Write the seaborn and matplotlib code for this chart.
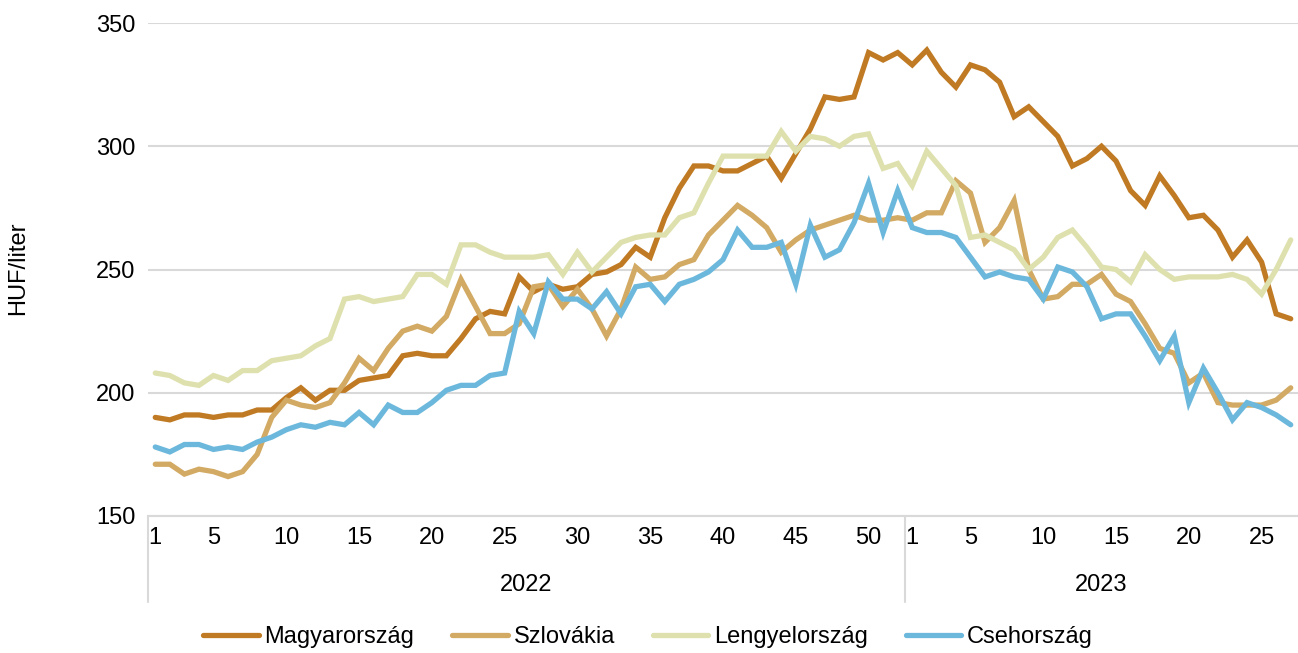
import numpy as np
import pandas as pd
import matplotlib
matplotlib.use("Agg")
import matplotlib.pyplot as plt
import seaborn as sns
from matplotlib.transforms import blended_transform_factory

# === Data (weekly fuel prices, HUF/liter) ===
weeks_2022 = list(range(1, 53))
weeks_2023 = list(range(1, 28))
years = ["2022", "2023"]
countries = ["Magyarország", "Szlovákia", "Lengyelország", "Csehország"]
colors = ["#C07A23", "#D2AA63", "#DEE1AE", "#6CB8DC"]

hu_2022 = [190, 189, 191, 191, 190, 191, 191, 193, 193, 198,
           202, 197, 201, 201, 205, 206, 207, 215, 216, 215,
           215, 222, 230, 233, 232, 247, 241, 244, 242, 243,
           248, 249, 252, 259, 255, 271, 283, 292, 292, 290,
           290, 293, 296, 287, 297, 307, 320, 319, 320, 338,
           335, 338]
hu_2023 = [333, 339, 330, 324, 333, 331, 326, 312, 316, 310,
           304, 292, 295, 300, 294, 282, 276, 288, 280, 271,
           272, 266, 255, 262, 253, 232, 230]

sk_2022 = [171, 171, 167, 169, 168, 166, 168, 175, 190, 197,
           195, 194, 196, 204, 214, 209, 218, 225, 227, 225,
           231, 246, 235, 224, 224, 228, 243, 244, 235, 242,
           234, 223, 234, 251, 246, 247, 252, 254, 264, 270,
           276, 272, 267, 257, 262, 266, 268, 270, 272, 270,
           270, 271]
sk_2023 = [270, 273, 273, 286, 281, 261, 267, 278, 250, 238,
           239, 244, 244, 248, 240, 237, 228, 218, 216, 204,
           208, 196, 195, 195, 195, 197, 202]

pl_2022 = [208, 207, 204, 203, 207, 205, 209, 209, 213, 214,
           215, 219, 222, 238, 239, 237, 238, 239, 248, 248,
           244, 260, 260, 257, 255, 255, 255, 256, 248, 257,
           249, 255, 261, 263, 264, 264, 271, 273, 285, 296,
           296, 296, 296, 306, 298, 304, 303, 300, 304, 305,
           291, 293]
pl_2023 = [284, 298, 291, 284, 263, 264, 261, 258, 250, 255,
           263, 266, 259, 251, 250, 245, 256, 250, 246, 247,
           247, 247, 248, 246, 240, 250, 262]

cz_2022 = [178, 176, 179, 179, 177, 178, 177, 180, 182, 185,
           187, 186, 188, 187, 192, 187, 195, 192, 192, 196,
           201, 203, 203, 207, 208, 233, 224, 245, 238, 238,
           234, 241, 232, 243, 244, 237, 244, 246, 249, 254,
           266, 259, 259, 261, 244, 268, 255, 258, 269, 285,
           265, 282]
cz_2023 = [267, 265, 265, 263, 255, 247, 249, 247, 246, 238,
           251, 249, 243, 230, 232, 232, 223, 213, 223, 196,
           210, 200, 189, 196, 194, 191, 187]

shown_weeks = [1, 5, 10, 15, 20, 25, 30, 35, 40, 45, 50]

# === Long table for seaborn ===
week_lbl = weeks_2022 + weeks_2023
pos = np.arange(len(week_lbl))
series = {
    "Magyarország": hu_2022 + hu_2023,
    "Szlovákia": sk_2022 + sk_2023,
    "Lengyelország": pl_2022 + pl_2023,
    "Csehország": cz_2022 + cz_2023,
}
df = pd.concat(
    [pd.DataFrame({"pos": pos, "value": v, "country": k}) for k, v in series.items()],
    ignore_index=True,
)

# === Plot ===
sns.set_style("white")
plt.rcParams["font.family"] = ["Liberation Sans", "DejaVu Sans"]
plt.rcParams["font.size"] = 17
plt.rcParams["text.color"] = "black"
plt.rcParams["xtick.color"] = "black"
plt.rcParams["ytick.color"] = "black"

fig = plt.figure(figsize=(12.98, 6.53), dpi=100)
ax = fig.add_axes([148 / 1298, 1 - 516 / 653, 1150 / 1298, (516 - 23) / 653])

sns.lineplot(data=df, x="pos", y="value", hue="country", hue_order=countries,
             palette=colors, linewidth=3.8, legend=False, ax=ax)
for ln in ax.lines:
    ln.set_solid_capstyle("round")
    ln.set_solid_joinstyle("miter")

ax.set_xlim(-0.5, len(week_lbl) - 0.5)
ax.set_ylim(150, 350)
ax.set_yticks([150, 200, 250, 300, 350])
ax.grid(axis="y", color="#D9D9D9", linewidth=1.5)
ax.set_axisbelow(True)
for s in ["top", "right", "left"]:
    ax.spines[s].set_visible(False)
ax.spines["bottom"].set_color("#D9D9D9")
ax.spines["bottom"].set_linewidth(1.5)

ticks = [p for p, w in zip(pos, week_lbl) if w in shown_weeks]
ax.set_xticks(ticks)
ax.set_xticklabels([str(week_lbl[p]) for p in ticks])
ax.tick_params(axis="x", length=0, pad=8, labelsize=17)
ax.tick_params(axis="y", length=0, pad=9, labelsize=17)
ax.set_xlabel("")
ax.set_ylabel("")

# year groups and separators
trans = blended_transform_factory(ax.transData, ax.transAxes)
n22 = len(weeks_2022)
bounds = [-0.5, n22 - 0.5, len(week_lbl) - 0.5]
for b in bounds[:2]:
    ax.plot([b, b], [0, -0.175], transform=trans, color="#D9D9D9",
            linewidth=1.5, clip_on=False)
for i, yr in enumerate(years):
    ax.text((bounds[i] + bounds[i + 1]) / 2, -0.14, yr, transform=trans,
            ha="center", va="center", fontsize=17)

fig.text(18 / 1298, 1 - 268 / 653, "HUF/liter", rotation=90,
         ha="center", va="center", fontsize=17)

fig.legend(ax.lines[:4], countries, loc="center", bbox_to_anchor=(648 / 1298, 1 - 637 / 653),
           ncol=4, frameon=False, handlelength=2.35, handletextpad=0.25,
           columnspacing=1.6, fontsize=17)

fig.savefig("out.png", dpi=100)
